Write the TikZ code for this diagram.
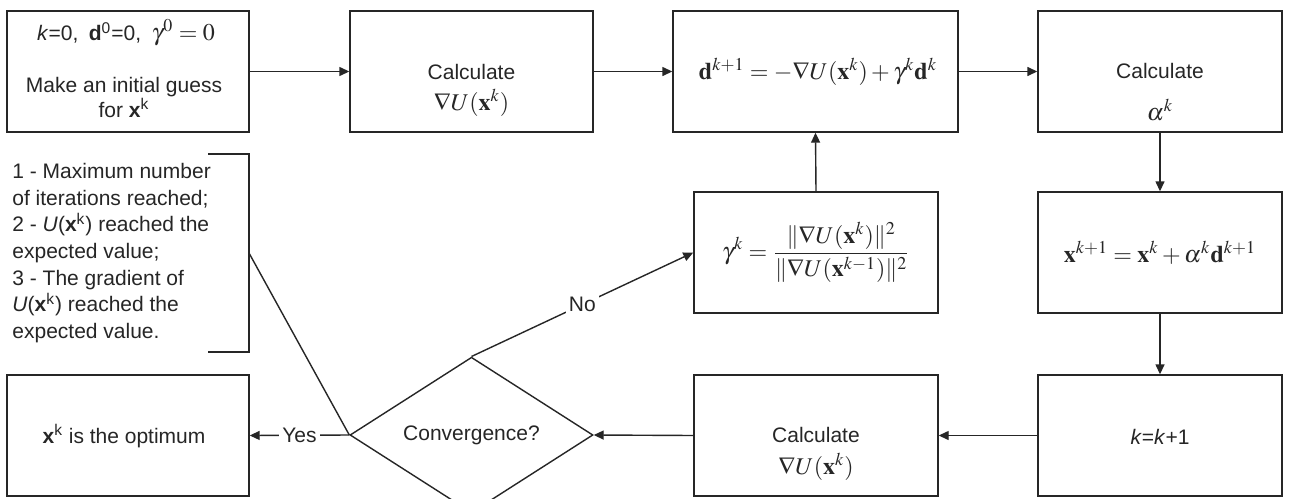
\documentclass[tikz,border=0pt]{standalone}
\usepackage{mathptmx}
\usepackage[no-math]{fontspec}
\setmainfont{Liberation Sans}
\usetikzlibrary{arrows.meta,shapes.geometric}
\definecolor{ink}{HTML}{262626}
\begin{document}
\begin{tikzpicture}[x=0.5pt,y=-0.5pt,
  box/.style={draw=ink, line width=0.7pt, inner sep=0pt, minimum height=60.5pt},
  txt/.style={text=ink, inner sep=0pt, font=\fontsize{10.5}{12.5}\selectfont},
  mth/.style={text=ink, inner sep=0pt, font=\fontsize{12}{14}\selectfont},
  arr/.style={draw=ink, line width=0.7pt, -{Triangle[length=5pt,width=4.5pt]}},
  ln/.style={draw=ink, line width=0.7pt},
  lab/.style={fill=white, text=ink, inner sep=1.5pt, font=\fontsize{10.5}{12.5}\selectfont}]
\useasboundingbox (0,0) rectangle (1301,498);
\fill[white] (0,0) rectangle (1301,498);

% boxes
\node[box, minimum width=121pt] (init) at (128,71.5) {};
\node[box, minimum width=121.5pt] (grad) at (471.5,71.5) {};
\node[box, minimum width=142.5pt] (dir) at (815.5,71.5) {};
\node[box, minimum width=122pt] (alpha) at (1160,71.5) {};
\node[box, minimum width=122pt] (upd) at (1160,252.5) {};
\node[box, minimum width=122pt] (inc) at (1160,435.5) {};
\node[box, minimum width=122pt] (gradb) at (816,435.5) {};
\node[box, minimum width=122pt] (gam) at (816,252.5) {};
\node[box, minimum width=121pt] (opt) at (128,435.5) {};
\node[draw=ink, line width=0.7pt, diamond, inner sep=0pt, minimum width=121.5pt,
      minimum height=70pt, text=ink, font=\fontsize{10.5}{12.5}\selectfont] (conv) at (471.5,435) {Convergence?};

% texts
\node[txt] (t1) at (126,33) {\textit{k}=0,\enspace \textbf{d}\textsuperscript{0}=0,\enspace {\fontsize{12}{14}\selectfont$\gamma^0=0$}};
\node[txt, align=center] (t2) at (124,97.5) {Make an initial guess\\for \textbf{x}\textsuperscript{k}};
\node[txt] (t3) at (471.5,72) {Calculate};
\node[mth] (t4) at (471.5,103) {$\nabla U(\mathbf{x}^k)$};
\node[mth] (t5) at (818,71.5) {$\mathbf{d}^{k+1}=-\nabla U(\mathbf{x}^k)+\gamma^k\mathbf{d}^k$};
\node[txt] (t6) at (1160,71) {Calculate};
\node[mth] (t7) at (1160,110) {$\alpha^k$};
\node[mth] (t8) at (1160,253) {$\mathbf{x}^{k+1}=\mathbf{x}^k+\alpha^k\mathbf{d}^{k+1}$};
\node[txt] (t9) at (1160,437) {\textit{k}=\textit{k}+1};
\node[txt] (t10) at (816,435) {Calculate};
\node[mth] (t11) at (816,467) {$\nabla U(\mathbf{x}^k)$};
\node[mth] (t12) at (816,252) {$\displaystyle\gamma^k=\frac{\|\nabla U(\mathbf{x}^k)\|^{2}}{\|\nabla U(\mathbf{x}^{k-1})\|^{2}}$};
\node[txt] (t13) at (124,436) {\textbf{x}\textsuperscript{k} is the optimum};
\node[txt, align=left, anchor=west, font=\fontsize{10.5}{13.3}\selectfont] (t14) at (12,253)
  {1 - Maximum number\\of iterations reached;\\2 - \textit{U}(\textbf{x}\textsuperscript{k}) reached the\\expected value;\\3 - The gradient of\\\textit{U}(\textbf{x}\textsuperscript{k}) reached the\\expected value.};

% bracket
\draw[ln] (208,154) -- (249,154) -- (249,352) -- (208,352);
\coordinate (brk) at (249,253);
\draw[ln] (brk) -- (conv.west);

% connectors
\draw[arr] (init.east) -- (grad.west);
\draw[arr] (grad.east) -- (dir.west);
\draw[arr] (dir.east) -- (alpha.west);
\draw[arr] (alpha.south) -- (upd.north);
\draw[arr] (upd.south) -- (inc.north);
\draw[arr] (inc.west) -- (gradb.east);
\draw[arr] (gradb.west) -- (conv.east);
\draw[arr] (conv.west) -- node[lab] {Yes} (opt.east);
\draw[arr] (conv.north) -- node[lab] {No} (gam.west);
\draw[arr] (gam.north) -- (dir.south);
\end{tikzpicture}
\end{document}
